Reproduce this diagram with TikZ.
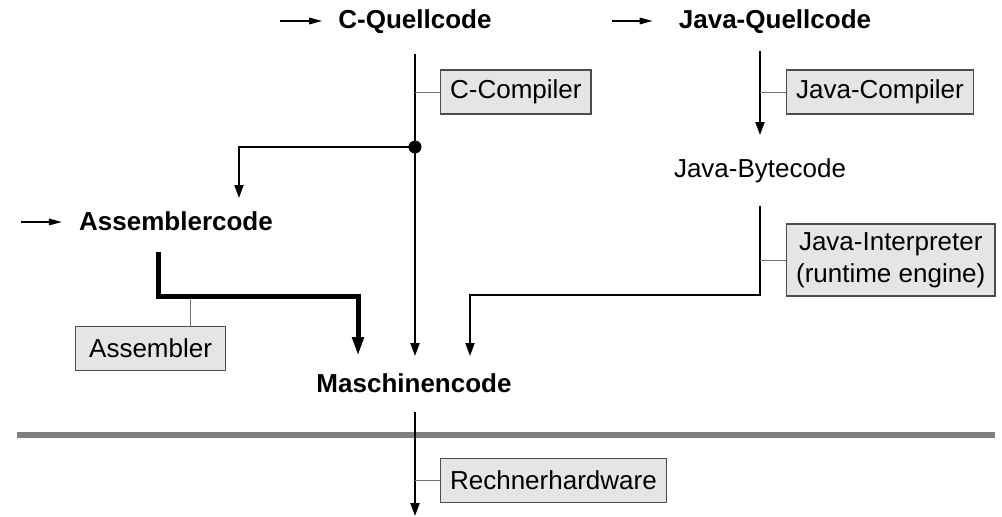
\documentclass[tikz,border=0pt]{standalone}
\usepackage{fontspec}
\setmainfont{Liberation Sans}
\usetikzlibrary{arrows.meta}
\begin{document}
\begin{tikzpicture}[x=1pt,y=-1pt,
  font=\fontsize{26}{32}\selectfont,
  title/.style={font=\fontsize{26}{32}\selectfont\bfseries, inner sep=0pt, anchor=base},
  label/.style={inner sep=0pt, anchor=base},
  toolbox/.style={draw=black!70, line width=1.2pt, fill=black!10, inner xsep=9.5pt,
    inner ysep=0pt, minimum height=44pt, anchor=west, align=center},
  stub/.style={draw=black!55, line width=1pt},
  flow/.style={line width=2pt, -{Triangle[length=13pt,width=9pt]}},
  heavy/.style={line width=5pt, -{Triangle[length=19pt,width=11pt]}},
  entry/.style={line width=1.6pt, -{Triangle[length=13pt,width=6.5pt]}}
]
\useasboundingbox (0,0) rectangle (1002,517);

% hardware boundary
\draw[line width=6pt, black!50] (17,435) coordinate (barL) -- (995,435) coordinate (barR);

% code levels
\node[title] (cq) at (415,28) {C-Quellcode};
\node[title] (jq) at (775,28) {Java-Quellcode};
\node[label] (jb) at (760,177) {Java-Bytecode};
\node[title] (asm) at (176,230) {Assemblercode};
\node[title] (mc) at (414,392) {Maschinencode};

% translators
\node[toolbox] (ccomp) at (440,92) {C-Compiler};
\node[toolbox] (jcomp) at (786,92) {Java-Compiler};
\node[toolbox, minimum height=72pt, minimum width=207pt] (jint) at (786,260) {Java-Interpreter\\(runtime engine)};
\node[toolbox, minimum width=150pt] (assem) at (75,348.5) {Assembler};
\node[toolbox, minimum width=222pt] (hw) at (440,480.5) {Rechnerhardware};

% entry points
\coordinate (cqIn) at (280,21);
\coordinate (jqIn) at (612,21);
\coordinate (asmIn) at (21,222);
\draw[entry] (cqIn) -- ([xshift=-16pt]cq.west |- cqIn);
\draw[entry] (jqIn) -- ([xshift=-26pt]jq.west |- jqIn);
\draw[entry] (asmIn) -- ([xshift=-17pt]asm.west |- asmIn);

% C path
\coordinate (cTop) at (415,54);
\coordinate (cTip) at (415,356);
\coordinate (split) at (415,147);
\coordinate (asmTip) at (239,198);
\draw[flow] (cTop) -- (cTip);
\draw[flow] (split) -| (asmTip);
\fill (split) circle (6.5pt);
\draw[stub] (cTop |- ccomp.west) -- (ccomp.west);

% Java compile path
\coordinate (jTop) at (760,51);
\coordinate (jTip) at (760,135);
\draw[flow] (jTop) -- (jTip);
\draw[stub] (jTop |- jcomp.west) -- (jcomp.west);

% Java interpretation path
\coordinate (jbOut) at (760,206);
\coordinate (jiTip) at (470,356);
\draw[flow] (jbOut) -- (760,295) -| (jiTip);
\draw[stub] (jbOut |- jint.west) -- (jint.west);

% assembler path
\coordinate (asmOut) at (158,252);
\coordinate (asTip) at (358,356);
\draw[heavy] (asmOut) -- (158,296) -| (asTip);
\draw[stub] (190,298) -- (assem.north -| 190,0);

% down to the hardware
\coordinate (mcOut) at (415,412);
\coordinate (hwTip) at (415,516);
\draw[flow] (mcOut) -- (hwTip);
\draw[stub] (mcOut |- hw.west) -- (hw.west);
\end{tikzpicture}
\end{document}
